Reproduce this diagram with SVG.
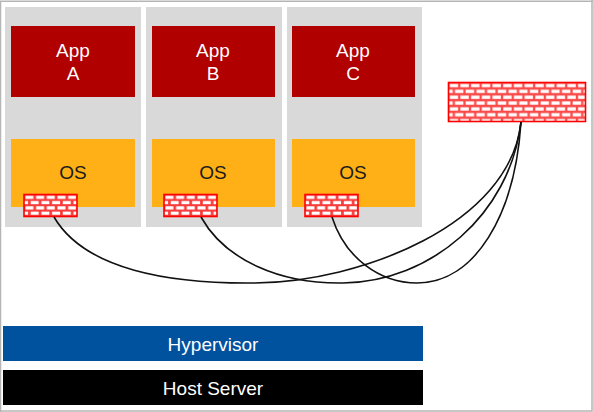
<svg xmlns="http://www.w3.org/2000/svg" width="593" height="412" viewBox="0 0 593 412">
<defs>
<pattern id="brick" width="10.7" height="11.7" patternUnits="userSpaceOnUse">
<rect width="10.7" height="11.7" fill="#fa4a4a"/>
<rect x="1.2" y="1.4" width="8.4" height="3.3" fill="#fff"/>
<rect x="-4.2" y="7.2" width="8.400" height="3.3" fill="#fff"/>
<rect x="6.500" y="7.200" width="8.400" height="3.3" fill="#fff"/>
</pattern>
<pattern id="brickS" width="10.7" height="10.6" patternUnits="userSpaceOnUse">
<rect width="10.7" height="10.6" fill="#f83a3a"/>
<rect x="1.400" y="1.200" width="8" height="3.200" fill="#fff"/>
<rect x="-4" y="6.500" width="8" height="3.200" fill="#fff"/>
<rect x="6.700" y="6.500" width="8" height="3.200" fill="#fff"/>
</pattern>
</defs>
<style>
text{font-family:"Liberation Sans",Arial,sans-serif;font-size:19px;text-anchor:middle}
.panel{fill:#d9d9d9}
.app{fill:#b00000}
.os{fill:#ffb016}
.lt{fill:#fff}
.dk{fill:#1a1a1a}
.fw{stroke:#f00;stroke-width:1.6}
.conn{fill:none;stroke:#111;stroke-width:1.6}
</style>
<rect width="593" height="412" fill="#fff"/>
<path d="M0.5 412V1.2H593M592 0V411H0" fill="none" stroke="#b5b5b5" stroke-width="1.5"/>
<g id="vm-a">
<rect class="panel" x="5" y="7" width="136" height="220"/>
<rect class="app" x="11" y="26" width="124" height="71"/>
<text class="lt" x="73" y="57">App</text><text class="lt" x="73" y="80">A</text>
<rect class="os" x="11" y="139" width="124" height="68"/>
<text class="dk" x="73" y="179">OS</text>
<rect class="fw" transform="translate(24 194.500)" width="53" height="22" fill="url(#brickS)"/>
</g>
<g id="vm-b">
<rect class="panel" x="146" y="7" width="136" height="220"/>
<rect class="app" x="152" y="26" width="123" height="71"/>
<text class="lt" x="213" y="57">App</text><text class="lt" x="213" y="80">B</text>
<rect class="os" x="152" y="139" width="123" height="68"/>
<text class="dk" x="213" y="179">OS</text>
<rect class="fw" transform="translate(164 194.500)" width="53" height="22" fill="url(#brickS)"/>
</g>
<g id="vm-c">
<rect class="panel" x="287" y="7" width="135" height="220"/>
<rect class="app" x="292" y="26" width="123" height="71"/>
<text class="lt" x="353" y="57">App</text><text class="lt" x="353" y="80">C</text>
<rect class="os" x="292" y="139" width="123" height="68"/>
<text class="dk" x="353" y="179">OS</text>
<rect class="fw" transform="translate(305 194.500)" width="53" height="22" fill="url(#brickS)"/>
</g>
<g id="firewall">
<rect class="fw" transform="translate(448.500 82.500)" width="137" height="39" fill="url(#brick)"/>
</g>
<g id="hypervisor">
<rect x="3" y="326" width="420" height="35" fill="#00519e"/>
<text class="lt" x="213" y="351">Hypervisor</text>
</g>
<g id="host-server">
<rect x="3" y="370" width="420" height="35" fill="#000"/>
<text class="lt" x="213" y="395">Host Server</text>
</g>
<g id="connectors">
<path class="conn" d="M54 217C85 270 170 284 255 283C360 282 510 225 521 122"/>
<path class="conn" d="M201 217C225 260 280 284 343 283C430 282 510 215 521 122"/>
<path class="conn" d="M332 217C345 258 380 283 417 283C475 283 515 215 521 122"/>
</g>
</svg>
